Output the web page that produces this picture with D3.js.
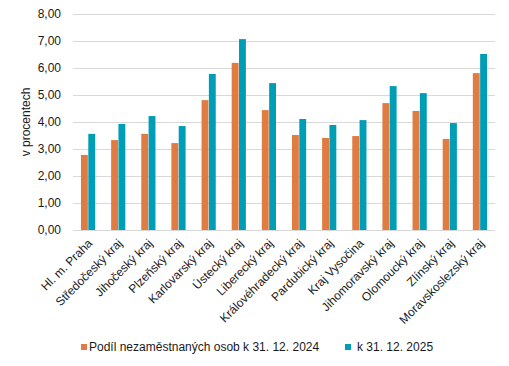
<!DOCTYPE html>
<html>
<head>
<meta charset="utf-8">
<script src="https://cdn.jsdelivr.net/npm/d3@7"></script>
<style>
  body { margin: 0; background: #fff; }
  text { font-family: "Liberation Sans", Arial, sans-serif; }
</style>
</head>
<body>
<div id="chart"></div>
<script>
// Data
var kraje = ["Hl. m. Praha", "Středočeský kraj", "Jihočeský kraj", "Plzeňský kraj", "Karlovarský kraj",
  "Ústecký kraj", "Liberecký kraj", "Královéhradecký kraj", "Pardubický kraj", "Kraj Vysočina",
  "Jihomoravský kraj", "Olomoucký kraj", "Zlínský kraj", "Moravskoslezský kraj"];
var podil2024 = [2.78, 3.33, 3.56, 3.22, 4.81, 6.19, 4.44, 3.52, 3.41, 3.48, 4.70, 4.41, 3.37, 5.81];
var podil2025 = [3.56, 3.93, 4.22, 3.85, 5.78, 7.07, 5.44, 4.11, 3.89, 4.07, 5.33, 5.07, 3.96, 6.52];
var serieNazvy = ["Podíl nezaměstnaných osob k 31. 12. 2024", "k 31. 12. 2025"];
var yTicks = [0, 1, 2, 3, 4, 5, 6, 7, 8];

var W = 509, H = 366;
var margin = { top: 14, right: 14, bottom: 136, left: 73 };
var colors = ["#E07B42", "#009DB6"];

var svg = d3.select("#chart").append("svg")
  .attr("width", W)
  .attr("height", H);

var x = d3.scaleBand()
  .domain(kraje)
  .range([margin.left, W - margin.right])
  .paddingInner(0.5)
  .paddingOuter(0.25);

var xSub = d3.scaleBand()
  .domain([0, 1])
  .range([0, x.bandwidth()])
  .padding(0.06);

var y = d3.scaleLinear()
  .domain([0, 8])
  .range([H - margin.bottom, margin.top]);

var fmt = d3.format(".2f");

// mřížka
svg.append("g")
  .selectAll("line")
  .data(yTicks)
  .enter().append("line")
  .attr("x1", margin.left)
  .attr("x2", W - margin.right)
  .attr("y1", d => y(d) + 0.5)
  .attr("y2", d => y(d) + 0.5)
  .style("stroke", "#D9D9D9")
  .style("stroke-width", "1px");

// osa y
var yAxis = svg.append("g")
  .attr("transform", `translate(${margin.left},0)`)
  .call(d3.axisLeft(y).tickValues(yTicks).tickSize(0).tickPadding(12)
    .tickFormat(d => fmt(d).replace(".", ",")));
yAxis.select(".domain").remove();
yAxis.selectAll("text")
  .style("font-size", "12px")
  .attr("fill", "#1a1a1a");

svg.append("text")
  .attr("transform", `translate(26,${y(4)}) rotate(-90)`)
  .attr("text-anchor", "middle")
  .attr("dy", "0.35em")
  .style("font-size", "12px")
  .attr("fill", "#1a1a1a")
  .text("v procentech");

// sloupce
var skupiny = svg.append("g")
  .selectAll("g")
  .data(kraje)
  .enter().append("g")
  .attr("transform", d => `translate(${x(d)},0)`);

skupiny.selectAll("rect")
  .data((d, i) => [podil2024[i], podil2025[i]])
  .enter().append("rect")
  .attr("x", (d, j) => xSub(j))
  .attr("width", xSub.bandwidth())
  .attr("y", d => y(d))
  .attr("height", d => y(0) - y(d))
  .style("fill", (d, j) => colors[j]);

// popisky kategorií
var xAxis = svg.append("g")
  .attr("transform", `translate(0,${y(0)})`)
  .call(d3.axisBottom(x).tickSize(0).tickPadding(0));
xAxis.select(".domain").remove();
xAxis.selectAll("text")
  .style("font-size", "12px")
  .attr("fill", "#1a1a1a")
  .attr("text-anchor", "end")
  .attr("dy", 0)
  .attr("y", 0)
  .attr("transform", "translate(5,14) rotate(-45)");

// legenda
var legenda = svg.append("g").attr("transform", `translate(0,347)`);
var legX = [81, 345];
serieNazvy.forEach(function(nazev, i) {
  legenda.append("rect")
    .attr("x", legX[i])
    .attr("y", -3)
    .attr("width", 6)
    .attr("height", 6)
    .style("fill", colors[i]);
  legenda.append("text")
    .attr("x", legX[i] + (i === 0 ? 8 : 12))
    .attr("y", 0)
    .attr("dy", "0.35em")
    .style("font-size", "12px")
    .attr("fill", "#1a1a1a")
    .text(nazev);
});
</script>
</body>
</html>
